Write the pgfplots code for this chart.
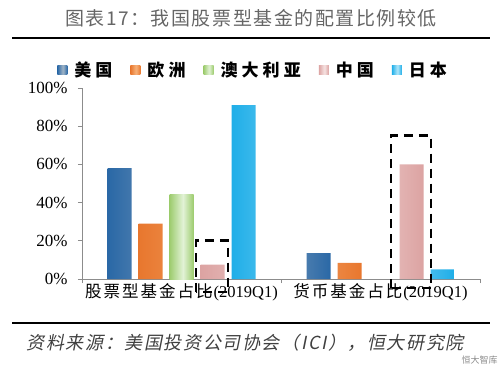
\documentclass[border=0pt]{standalone}
\usepackage{pgfplots}
\pgfplotsset{compat=1.18}
\usepackage{fontspec}
\setmainfont{Liberation Serif}
\newfontfamily\cjk{Noto Sans CJK SC}
\newfontfamily\cjktitle[LetterSpace=8]{Noto Sans CJK SC}
\newfontfamily\cjktick[LetterSpace=12]{Noto Sans CJK SC}
\newfontfamily\cjkleg[LetterSpace=24]{Noto Sans CJK SC}
\newfontfamily\cjkit[FakeSlant=0.2,LetterSpace=9]{Noto Sans CJK SC}
\definecolor{usA}{HTML}{2A68A6}
\definecolor{usB}{HTML}{A3B5C6}
\definecolor{euA}{HTML}{E8772E}
\definecolor{euB}{HTML}{F7B27A}
\definecolor{auA}{HTML}{9DCC6E}
\definecolor{auB}{HTML}{E2F2D6}
\definecolor{cnA}{HTML}{DCA3A2}
\definecolor{cnB}{HTML}{F6E4E3}
\definecolor{jpA}{HTML}{1FAEE8}
\definecolor{jpB}{HTML}{B0E6FA}
\pgfdeclarehorizontalshading{usS}{100bp}{color(0bp)=(usA); color(25bp)=(usA); color(53bp)=(usB); color(75bp)=(usA); color(100bp)=(usA)}
\pgfdeclarehorizontalshading{euS}{100bp}{color(0bp)=(euA); color(25bp)=(euA); color(53bp)=(euB); color(75bp)=(euA); color(100bp)=(euA)}
\pgfdeclarehorizontalshading{auS}{100bp}{color(0bp)=(auA); color(25bp)=(auA); color(53bp)=(auB); color(75bp)=(auA); color(100bp)=(auA)}
\pgfdeclarehorizontalshading{cnS}{100bp}{color(0bp)=(cnA); color(25bp)=(cnA); color(53bp)=(cnB); color(75bp)=(cnA); color(100bp)=(cnA)}
\pgfdeclarehorizontalshading{jpS}{100bp}{color(0bp)=(jpA); color(25bp)=(jpA); color(53bp)=(jpB); color(75bp)=(jpA); color(100bp)=(jpA)}
\begin{document}
\begin{tikzpicture}[x=1pt,y=1pt]
\useasboundingbox (0,0) rectangle (500,370);
\node[font=\cjktitle\fontsize{19}{19}\selectfont, text=black!60] at (251,352) {图表17：我国股票型基金的配置比例较低};
\draw[line width=2.2pt] (12,332) -- (490,332);
\draw[line width=2.2pt] (12,47) -- (490,47);
\node[anchor=west, font=\cjkit\fontsize{18}{18}\selectfont, text=black!75] at (23,27) {资料来源：美国投资公司协会（ICI），恒大研究院};
\node[anchor=west, font=\cjk\fontsize{9}{9}\selectfont, text=black!45] at (458,10) {恒大智库};
\begin{axis}[
  at={(82pt,91pt)}, anchor=south west,
  scale only axis, width=398pt, height=191pt,
  ybar=7pt, bar width=24pt,
  xmin=-0.5, xmax=1.5, ymin=0, ymax=100,
  axis lines=left, axis line style={-, draw=black!45, line width=0.8pt},
  xtick={-0.5,0.5,1.5}, xticklabels={},
  extra x ticks={0,1},
  extra x tick labels={{\cjktick 股票型基金占比}\kern1pt(2019Q1),{\cjktick 货币基金占比}\kern1pt(2019Q1)},
  extra x tick style={major tick length=0pt},
  xticklabel style={font=\fontsize{16.5}{16.5}\selectfont, yshift=-1pt},
  ytick={0,20,40,60,80,100},
  yticklabels={0\%,20\%,40\%,60\%,80\%,100\%},
  yticklabel style={font=\fontsize{17}{17}\selectfont, xshift=-7pt},
  tick align=outside, major tick length=4pt,
  tick style={draw=black!45, line width=0.8pt},
  clip=false,
  legend style={at={(0.43,1.094)}, anchor=center, draw=none, fill=none,
    legend columns=-1, font=\cjkleg\bfseries\fontsize{17}{17}\selectfont,
    /tikz/every odd column/.append style={column sep=5pt},
    /tikz/every even column/.append style={column sep=16pt}},
  legend image code/.code={\shade[#1] (0pt,-4.5pt) rectangle (10pt,4.5pt);},
]
\addplot[draw=none, shade, shading=usS] coordinates {(0,58) (1,13.5)};
\addplot[draw=none, shade, shading=euS] coordinates {(0,29) (1,8.5)};
\addplot[draw=none, shade, shading=auS] coordinates {(0,44)};
\addplot[draw=none, shade, shading=cnS] coordinates {(0,7.5) (1,60)};
\addplot[draw=none, shade, shading=jpS] coordinates {(0,91) (1,5)};
\legend{美国,欧洲,澳大利亚,中国,日本}
\draw[dashed, dash pattern=on 9pt off 6pt, line width=2.8pt] (axis cs:0.073,-6.8) rectangle (axis cs:0.234,20);
\draw[dashed, dash pattern=on 9pt off 6pt, line width=2.8pt] (axis cs:1.053,-4.7) rectangle (axis cs:1.254,75);
\end{axis}
\end{tikzpicture}
\end{document}
